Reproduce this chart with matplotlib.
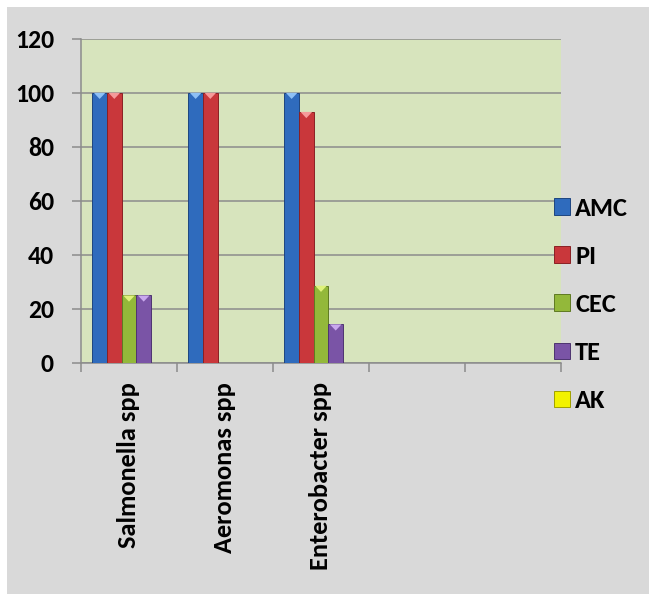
import numpy as np
import matplotlib
matplotlib.use("Agg")
import matplotlib.pyplot as plt
from matplotlib.patches import Rectangle, Polygon

# data
categories = ["Salmonella spp", "Aeromonas spp", "Enterobacter spp", "", ""]
series_names = ["AMC", "PI", "CEC", "TE", "AK"]
amc = [100, 100, 100, 0, 0]
pi = [100, 100, 92.9, 0, 0]
cec = [25, 0, 28.6, 0, 0]
te = [25, 0, 14.3, 0, 0]
ak = [0, 0, 0, 0, 0]
y_ticks = [0, 20, 40, 60, 80, 100, 120]

colors = ["#2f6bbd", "#c9373b", "#93b83a", "#7a54a6", "#f2f200"]
edges = ["#1d4580", "#8a2024", "#5f7a22", "#4e3470", "#a0a000"]
tops = ["#8ec0f5", "#f59a9a", "#dff27a", "#c9a8ee", "#ffff99"]

plt.rcParams['font.family'] = ['Carlito', 'DejaVu Sans']
plt.rcParams['font.weight'] = 'bold'

fig = plt.figure(figsize=(6.49, 5.94), dpi=100)
fig.patch.set_facecolor("white")
# grey chart area
fig.patches.append(Rectangle((7 / 649, 0), 1, 1 - 7 / 594, transform=fig.transFigure,
                             facecolor="#d9d9d9", edgecolor="none", zorder=-5))

ax = fig.add_axes([81 / 649, 1 - 363 / 594, 480 / 649, (363 - 38.7) / 594])
ax.set_zorder(2)
ax.set_facecolor("#d7e4bd")

x = np.arange(len(categories))
w = 0.153
all_series = [amc, pi, cec, te, ak]
handles = []
for i, vals in enumerate(all_series):
    pos = x + (i - 2) * w
    bars = ax.bar(pos, vals, width=w, color=colors[i], edgecolor=edges[i],
                  linewidth=0.7, zorder=3, label=series_names[i])
    handles.append(bars)
    # bevel triangle on top of each bar
    for b in bars:
        h = b.get_height()
        if h <= 0:
            continue
        x0 = b.get_x()
        bw = b.get_width()
        tri = Polygon([(x0 + 0.1 * bw, h), (x0 + 0.9 * bw, h), (x0 + 0.5 * bw, h - 2.3)],
                      closed=True, facecolor=tops[i], edgecolor="none", zorder=4)
        ax.add_patch(tri)

ax.set_xlim(-0.5, 4.5)
ax.set_ylim(0, 120)
ax.set_yticks(y_ticks)
ax.set_yticklabels([str(v) for v in y_ticks], fontsize=18.5, fontweight='bold')
ax.yaxis.grid(True, color="#8c8c8c", linewidth=1.1, zorder=1)
ax.set_axisbelow(True)

ax.set_xticks(np.arange(-0.5, 5, 1))
ax.set_xticklabels([])
ax.set_xticks(x, minor=True)
ax.set_xticklabels(categories, minor=True, rotation=90, fontsize=19, fontweight='bold')
ax.tick_params(axis='x', which='minor', length=0, pad=13.5)
ax.tick_params(axis='x', which='major', length=6.5, width=1.1, color="#8c8c8c", direction='out')
ax.tick_params(axis='y', length=6.5, width=1.1, color="#8c8c8c", direction='out', pad=13)

for s in ["top", "right"]:
    ax.spines[s].set_visible(False)
for s in ["left", "bottom"]:
    ax.spines[s].set_color("#8c8c8c")
    ax.spines[s].set_linewidth(1.1)

leg = fig.legend(handles=handles, labels=series_names, loc="upper left",
                 bbox_to_anchor=(554 / 649, 1 - 197 / 594), frameon=False,
                 prop={'weight': 'bold', 'size': 19},
                 handlelength=0.6, handleheight=0.6, handletextpad=0.2,
                 labelspacing=0.95, borderpad=0, borderaxespad=0)
leg.set_zorder(5)

fig.savefig("out.png", dpi=100)
